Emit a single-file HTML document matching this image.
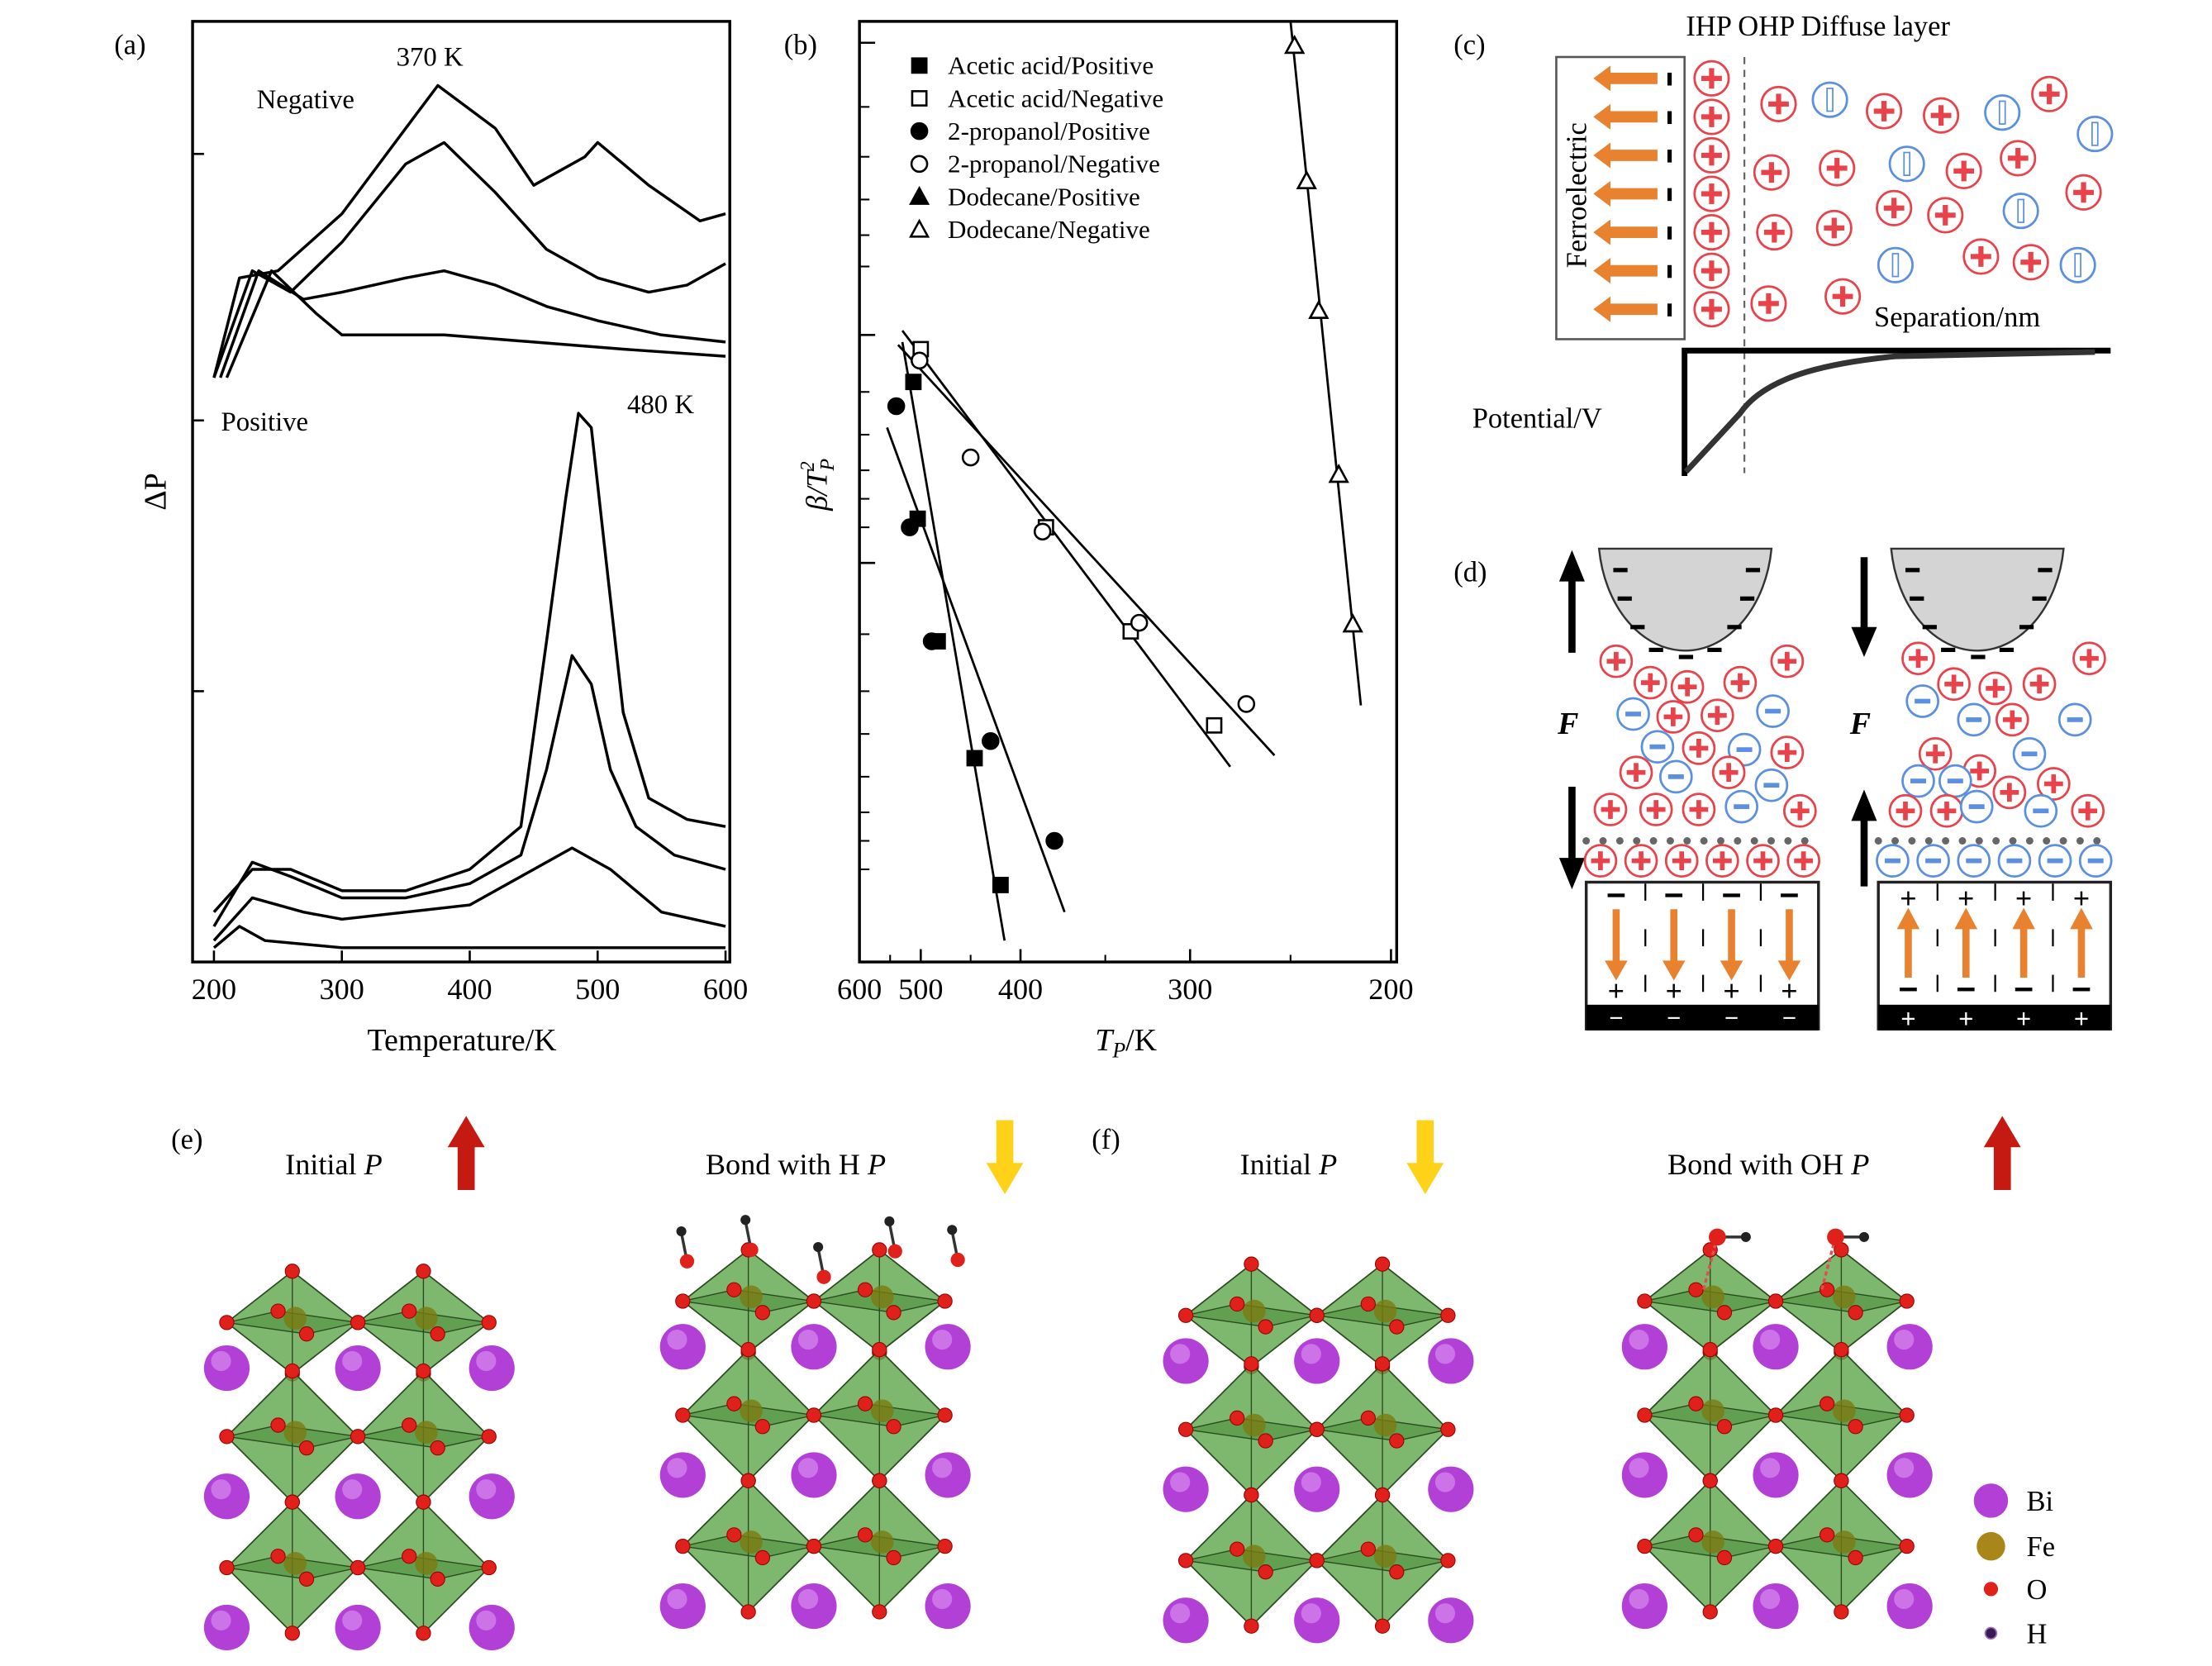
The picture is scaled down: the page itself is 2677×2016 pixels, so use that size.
<!DOCTYPE html>
<html><head><meta charset="utf-8"><style>
html,body{margin:0;padding:0;background:#fff;}
svg{display:block;font-family:"Liberation Serif",serif;}
</style></head><body>
<svg id="fig" width="2677" height="2016" viewBox="0 0 1552 1169" xmlns="http://www.w3.org/2000/svg">
<g id="pa"></g>
<g id="pb"></g>
<g id="pc"></g>
<g id="pd"></g>
<g id="pe"></g>
</svg>
<script>
// ---------- Panel (a) data ----------
const aTicksX = [200, 300, 400, 500, 600];
const aNeg1 = [[200,410],[220,480],[250,485],[300,525],[350,585],[375,615],[420,585],[450,545],[490,565],[500,575],[540,545],[580,520],[600,525]];
const aNeg2 = [[200,410],[230,485],[260,470],[300,505],[350,560],[380,575],[420,540],[460,500],[500,480],[540,470],[570,475],[600,490]];
const aNeg3 = [[205,410],[235,485],[270,465],[300,470],[350,480],[380,485],[420,475],[460,460],[500,450],[550,440],[600,435]];
const aNeg4 = [[210,410],[245,485],[280,455],[300,440],[380,440],[450,435],[520,430],[600,425]];
const aPos1 = [[200,35],[230,65],[260,65],[300,50],[350,50],[400,65],[440,95],[460,225],[475,325],[485,385],[495,375],[505,295],[520,175],[540,115],[570,100],[600,95]];
const aPos2 = [[200,25],[230,70],[260,60],[300,45],[350,45],[400,55],[440,75],[460,135],[480,215],[495,195],[510,135],[530,95],[560,75],[600,65]];
const aPos3 = [[200,15],[230,45],[270,35],[300,30],[400,40],[450,65],[480,80],[510,65],[550,35],[600,25]];
const aPos4 = [[200,10],[220,25],[240,15],[300,10],[600,10]];
const aYTicks = [567, 380, 190];

// ---------- Panel (b) data ----------
const bTicksX = [600, 500, 400, 300, 200];
const bMinorX = [550, 450, 350, 250];
const bAceticPos = [[512,407],[505,311],[483,225],[446,143],[420,54]];
const bAceticNeg = [[500,430],[385,305],[335,232],[288,166]];
const bPropPos = [[540,390],[518,305],[489,225],[430,155],[380,85]];
const bPropNeg = [[502,422],[450,354],[387,302],[330,238],[272,181]];
const bDodPos = [[248,643],[242,548],[236,457],[226,342],[219,237]];
const bDodNeg = [[248,643],[242,548],[236,457],[226,342],[219,237]];
const bFitAP = [[530,435],[416,15]];
const bFitPP = [[555,375],[374,35]];
const bFitAN = [[530,443],[280,137]];
const bFitPN = [[537,433],[258,145]];
const bFitD = [[250,660],[215,180]];
const bYMajor = [645, 440, 280];
const bYMinor = [600,565,535,510,488,400,370,345,325,305,230,190,160,130,105,85,65];

const NS = "http://www.w3.org/2000/svg";
function mk(parent, tag, attrs, text){
  const e = document.createElementNS(NS, tag);
  for (const k in attrs) e.setAttribute(k, attrs[k]);
  if (text !== undefined) e.textContent = text;
  parent.appendChild(e);
  return e;
}
const pa = document.getElementById('pa');
const pb = document.getElementById('pb');
const pc = document.getElementById('pc');
const pd = document.getElementById('pd');
const pe = document.getElementById('pe');

// ===== Panel a =====
const ax = T => 150 + (T - 200) * 0.8975;
const ay = v => 675 - v;
let t;
t = mk(pa,'text',{x:80,y:38,'font-size':20}, '(a)');
 
t = mk(pa,'rect',{x:135,y:15,width:377,height:660,fill:'none',stroke:'#000','stroke-width':2});
 
aTicksX.forEach(v=>{
  const x = ax(v);
  t = mk(pa,'line',{x1:x,x2:x,y1:675,y2:667,stroke:'#000','stroke-width':1.5});
   
  t = mk(pa,'text',{x:x,y:701,'font-size':21,'text-anchor':'middle'}, String(v));
   
});
aYTicks.forEach(v=>{
  t = mk(pa,'line',{x1:135,x2:143,y1:ay(v),y2:ay(v),stroke:'#000','stroke-width':1.5});
   
});
t = mk(pa,'text',{x:324,y:737,'font-size':22,'text-anchor':'middle'}, 'Temperature/K');
 
t = mk(pa,'text',{x:0,y:0,'font-size':22,'text-anchor':'middle',transform:'translate(116,345) rotate(-90)'}, 'ΔP');
 
[['Negative',180,76,'label-negative'],['370 K',278,46,'label-370k'],['Positive',155,302,'label-positive'],['480 K',440,290,'label-480k']].forEach(a=>{
  t = mk(pa,'text',{x:a[1],y:a[2],'font-size':19}, a[0]);
   
});
[[aNeg1,'curve-negative-1'],[aNeg2,'curve-negative-2'],[aNeg3,'curve-negative-3'],[aNeg4,'curve-negative-4'],
 [aPos1,'curve-positive-1'],[aPos2,'curve-positive-2'],[aPos3,'curve-positive-3'],[aPos4,'curve-positive-4']].forEach(s=>{
  const pts = s[0].map(p=>ax(p[0]).toFixed(1)+','+ay(p[1]).toFixed(1)).join(' ');
  t = mk(pa,'polyline',{points:pts,fill:'none',stroke:'#000','stroke-width':2,'stroke-linejoin':'round'});
   
});

// ===== Panel b =====
function bx(T){
  const kT=[600,500,400,300,200], kX=[603,646,716,835,976];
  for(let i=0;i<kT.length-1;i++){
    if(T<=kT[i] && T>=kT[i+1]){ const f=(kT[i]-T)/(kT[i]-kT[i+1]); return kX[i]+f*(kX[i+1]-kX[i]); }
  }
  return T>600 ? 603 : 976;
}
const by = v => 675 - v;
t = mk(pb,'text',{x:550,y:38,'font-size':20}, '(b)');
 
t = mk(pb,'rect',{x:603,y:15,width:377,height:660,fill:'none',stroke:'#000','stroke-width':2});
 
bTicksX.forEach(v=>{
  const x = bx(v);
  t = mk(pb,'line',{x1:x,x2:x,y1:675,y2:666,stroke:'#000','stroke-width':1.5});
   
  t = mk(pb,'text',{x:x,y:701,'font-size':21,'text-anchor':'middle'}, String(v));
   
});
bMinorX.forEach(v=>{
  const x = bx(v);
  t = mk(pb,'line',{x1:x,x2:x,y1:675,y2:670,stroke:'#000','stroke-width':1.2});
   
});
bYMajor.forEach(v=>{
  t = mk(pb,'line',{x1:603,x2:614,y1:by(v),y2:by(v),stroke:'#000','stroke-width':1.5});
   
});
bYMinor.forEach(v=>{
  t = mk(pb,'line',{x1:603,x2:610,y1:by(v),y2:by(v),stroke:'#000','stroke-width':1.2});
   
});
t = mk(pb,'text',{x:790,y:737,'font-size':22,'text-anchor':'middle','font-style':'italic'}, 'T');
 
mk(t,'tspan',{'font-size':15,dy:5},'P');
mk(t,'tspan',{'font-style':'normal',dy:-5},'/K');
t = mk(pb,'text',{x:0,y:0,'font-size':21,'text-anchor':'middle','font-style':'italic',transform:'translate(580,340) rotate(-90)'}, 'β/T');
 
mk(t,'tspan',{'font-size':14,dy:5},'P');
mk(t,'tspan',{'font-size':14,dy:-14,dx:-9},'2');

function marker(g, kind, x, y){
  let e;
  if(kind==='sq'||kind==='osq') e = mk(g,'rect',{x:x-5,y:y-5,width:10,height:10,fill:kind==='sq'?'#000':'#fff',stroke:'#000','stroke-width':1.5});
  else if(kind==='ci'||kind==='oci') e = mk(g,'circle',{cx:x,cy:y,r:5.5,fill:kind==='ci'?'#000':'#fff',stroke:'#000','stroke-width':1.5});
  else e = mk(g,'polygon',{points:`${x},${y-6} ${x+6},${y+5} ${x-6},${y+5}`,fill:kind==='tr'?'#000':'#fff',stroke:'#000','stroke-width':1.5});
  return e;
}
[[bFitAP,'fit-acetic-positive'],[bFitPP,'fit-propanol-positive'],[bFitAN,'fit-acetic-negative'],[bFitPN,'fit-propanol-negative'],[bFitD,'fit-dodecane']].forEach(s=>{
  t = mk(pb,'line',{x1:bx(s[0][0][0]),y1:by(s[0][0][1]),x2:bx(s[0][1][0]),y2:by(s[0][1][1]),stroke:'#000','stroke-width':1.6});
   
});
const bSeries = [[bAceticPos,'sq','Acetic acid/Positive','acetic-positive'],[bAceticNeg,'osq','Acetic acid/Negative','acetic-negative'],
 [bPropPos,'ci','2-propanol/Positive','propanol-positive'],[bPropNeg,'oci','2-propanol/Negative','propanol-negative'],
 [bDodPos,'tr','Dodecane/Positive','dodecane-positive'],[bDodNeg,'otr','Dodecane/Negative','dodecane-negative']];
bSeries.forEach((s,i)=>{
  s[0].forEach(p=>{
    t = marker(pb, s[1], bx(p[0]), by(p[1]));
     
  });
  const ly = 46 + i*23;
  t = marker(pb, s[1], 645, ly);
   
  t = mk(pb,'text',{x:665,y:ly+6,'font-size':18}, s[2]);
   
});

// ===== Panel c =====
function ion(g, x, y, plus, r){
  r = r || 12;
  const col = plus ? '#e8434a' : '#5b8fe0';
  const c = mk(g,'g',{});
  mk(c,'circle',{cx:x,cy:y,r:r,fill:'#fff',stroke:col,'stroke-width':1.6});
  if(plus){
    mk(c,'rect',{x:x-r*0.6,y:y-r*0.15,width:r*1.2,height:r*0.3,fill:col});
    mk(c,'rect',{x:x-r*0.15,y:y-r*0.6,width:r*0.3,height:r*1.2,fill:col});
  } else {
    mk(c,'rect',{x:x-r*0.5,y:y-r*0.15,width:r*1.0,height:r*0.3,fill:col});
  }
  return c;
}
function ionV(g,x,y){
  const c = mk(g,'g',{});
  mk(c,'circle',{cx:x,cy:y,r:12,fill:'#fff',stroke:'#5b8fe0','stroke-width':1.6});
  mk(c,'rect',{x:x-2,y:y-8,width:4,height:16,fill:'none',stroke:'#5b8fe0','stroke-width':1});
  return c;
}
t = mk(pc,'text',{x:1020,y:38,'font-size':20}, '(c)');
 
t = mk(pc,'text',{x:1183,y:25,'font-size':20}, 'IHP  OHP  Diffuse layer');
 
t = mk(pc,'rect',{x:1092,y:40,width:90,height:198,fill:'none',stroke:'#555','stroke-width':1.5});
 
t = mk(pc,'text',{x:0,y:0,'font-size':20,'text-anchor':'middle',transform:'translate(1113,137) rotate(-90)'}, 'Ferroelectric');
 
for(let i=0;i<7;i++){
  const y = 55 + i*27;
  t = mk(pc,'polygon',{points:`${1118},${y} ${1130},${y-9} ${1130},${y-4} ${1163},${y-4} ${1163},${y+4} ${1130},${y+4} ${1130},${y+9}`,fill:'#e8822f'});
   
  t = mk(pc,'rect',{x:1170,y:y-4,width:3,height:9,fill:'#000'});
   
  t = ion(pc,1201,y,true,12);
   
}
t = mk(pc,'line',{x1:1224,y1:40,x2:1224,y2:332,stroke:'#666','stroke-width':1.3,'stroke-dasharray':'5,4'});
 
[[1248,73,1],[1284,70,0],[1322,78,1],[1362,81,1],[1405,79,0],[1438,66,1],[1470,94,0],
 [1243,121,1],[1289,118,1],[1338,115,0],[1378,120,1],[1416,111,1],[1462,135,1],
 [1245,163,1],[1287,160,1],[1329,146,1],[1365,151,1],[1418,148,0],
 [1330,186,0],[1390,180,1],[1425,184,1],[1458,186,0],[1241,213,1],[1293,208,1]].forEach(p=>{
  t = p[2] ? ion(pc,p[0],p[1],true,12) : ionV(pc,p[0],p[1]);
   
});
t = mk(pc,'text',{x:1315,y:229,'font-size':20}, 'Separation/nm');
 
t = mk(pc,'text',{x:1033,y:300,'font-size':20}, 'Potential/V');
 
t = mk(pc,'path',{d:'M1182,334 L1182,246 L1481,246',fill:'none',stroke:'#000','stroke-width':4});
 
t = mk(pc,'path',{d:'M1183,331 L1221,290 C1240,262 1290,254 1330,250 L1470,247',fill:'none',stroke:'#333','stroke-width':4});
 

// ===== Panel d =====
t = mk(pd,'text',{x:1020,y:408,'font-size':20}, '(d)');
 
function dPanel(ox, up){
  const g = mk(pd,'g',{});
   
  t = mk(g,'path',{d:`M${1122+ox},385 A61,82 0 0 0 ${1243+ox},385 Z`,fill:'#d4d4d4',stroke:'#333','stroke-width':1.4});
   
  [[1137,400],[1230,400],[1140,420],[1226,420],[1149,440],[1217,440],[1162,456],[1203,456],[1183,461]].forEach(p=>{
    mk(g,'rect',{x:p[0]+ox-5,y:p[1]-1.5,width:10,height:3,fill:'#000'});
  });
  const ax1 = 1103+ox;
  if(up){
    mk(g,'path',{d:`M${ax1},458 L${ax1},400`,stroke:'#000','stroke-width':5});
    mk(g,'polygon',{points:`${ax1},386 ${ax1-9},408 ${ax1+9},408`,fill:'#000'});
    mk(g,'path',{d:`M${ax1},552 L${ax1},610`,stroke:'#000','stroke-width':5});
    mk(g,'polygon',{points:`${ax1},624 ${ax1-9},602 ${ax1+9},602`,fill:'#000'});
  } else {
    mk(g,'path',{d:`M${ax1},391 L${ax1},448`,stroke:'#000','stroke-width':5});
    mk(g,'polygon',{points:`${ax1},461 ${ax1-9},440 ${ax1+9},440`,fill:'#000'});
    mk(g,'path',{d:`M${ax1},622 L${ax1},568`,stroke:'#000','stroke-width':5});
    mk(g,'polygon',{points:`${ax1},554 ${ax1-9},576 ${ax1+9},576`,fill:'#000'});
  }
  t = mk(g,'text',{x:1093+ox,y:515,'font-size':22,'font-style':'italic','font-weight':'bold'}, 'F');
   
  const ions = up ?
   [[1134,464,1],[1254,464,1],[1158,479,1],[1184,482,1],[1221,479,1],[1146,501,0],[1174,503,1],[1205,502,1],[1244,499,0],
    [1163,524,0],[1192,525,1],[1224,526,0],[1254,528,1],[1148,542,1],[1176,545,0],[1213,542,1],[1243,551,0],
    [1130,568,1],[1162,568,1],[1192,568,1],[1222,566,0],[1263,569,1]] :
   [[1141,462,1],[1261,462,1],[1166,480,1],[1195,483,1],[1226,480,1],[1144,492,0],[1180,505,0],[1207,505,1],[1251,505,0],
    [1153,529,1],[1184,541,1],[1219,529,0],[1236,550,1],[1141,548,0],[1167,548,0],[1205,556,1],
    [1132,569,1],[1161,569,1],[1182,566,0],[1227,569,0],[1260,569,1]];
  ions.forEach(p=>{
    t = ion(g, p[0]+ox, p[1], !!p[2], 11);
     
  });
  for(let i=0;i<14;i++){ mk(g,'circle',{cx:1113+ox+i*11.8,cy:590,r:2.6,fill:'#666'}); }
  for(let i=0;i<6;i++){
    t = ion(g,1123+ox+i*28.5,604,up,11);
     
  }
  t = mk(g,'rect',{x:1113+ox,y:619,width:163,height:103,fill:'#fff',stroke:'#222','stroke-width':2});
   
  t = mk(g,'rect',{x:1113+ox,y:705,width:163,height:18,fill:'#000'});
   
  for(let i=0;i<4;i++){
    const cx = 1134+ox+i*40.5;
    if(i>0) mk(g,'line',{x1:cx-20,x2:cx-20,y1:620,y2:705,stroke:'#000','stroke-width':1.3,'stroke-dasharray':'12,20'});
    const col='#e8822f';
    if(up){
      mk(g,'rect',{x:cx-2.5,y:638,width:5,height:38,fill:col});
      mk(g,'polygon',{points:`${cx-8},674 ${cx+8},674 ${cx},688`,fill:col});
      mk(g,'rect',{x:cx-6,y:627,width:12,height:2.5,fill:'#000'});
      mk(g,'text',{x:cx,y:702,'font-size':20,'text-anchor':'middle','font-family':'Liberation Sans'},'+');
      mk(g,'text',{x:cx,y:720,'font-size':17,'text-anchor':'middle',fill:'#fff','font-family':'Liberation Sans'},'−');
    } else {
      mk(g,'rect',{x:cx-2.5,y:648,width:5,height:38,fill:col});
      mk(g,'polygon',{points:`${cx-8},652 ${cx+8},652 ${cx},637`,fill:col});
      mk(g,'text',{x:cx,y:637,'font-size':20,'text-anchor':'middle','font-family':'Liberation Sans'},'+');
      mk(g,'rect',{x:cx-6,y:693,width:12,height:2.5,fill:'#000'});
      mk(g,'text',{x:cx,y:721,'font-size':18,'text-anchor':'middle',fill:'#fff','font-family':'Liberation Sans'},'+');
    }
  }
}
dPanel(0,true);
dPanel(205,false);

// ===== Panels e/f (crystal structures) =====
function arrow(x, up, col){
  const g = mk(pe,'g',{});
  if(up) mk(g,'polygon',{points:`${x},783 ${x-13},805 ${x-6},805 ${x-6},835 ${x+6},835 ${x+6},805 ${x+13},805`,fill:col});
  else mk(g,'polygon',{points:`${x},838 ${x-13},816 ${x-6},816 ${x-6},786 ${x+6},786 ${x+6},816 ${x+13},816`,fill:col});
  return g;
}
t = mk(pe,'text',{x:120,y:806,'font-size':20},'(e)');  
t = mk(pe,'text',{x:766,y:806,'font-size':20},'(f)');  
[['Initial ',200,'label-e-initial'],['Bond with H ',495,'label-e-bond-h'],['Initial ',870,'label-f-initial'],['Bond with OH ',1170,'label-f-bond-oh']].forEach(a=>{
  t = mk(pe,'text',{x:a[1],y:824,'font-size':21},a[0]);
  mk(t,'tspan',{'font-style':'italic'},'P');
   
});
t = arrow(327,true,'#c41a12');  
t = arrow(705,false,'#ffd21a');  
t = arrow(1000,false,'#ffd21a');  
t = arrow(1405,true,'#c41a12');  

function crystal(ox, top, name){
  const g = mk(pe,'g',{});  
  const rows = [top+40, top+130, top+222];
  const octY = [top+8, top+88, top+180];
  const octX = [ox+50, ox+142];
  octY.forEach((cy,ri)=>{
    octX.forEach(cx=>{
      const h = ri===0 ? 36 : 46;
      const pts = `${cx-46},${cy} ${cx},${cy-h} ${cx+46},${cy} ${cx},${cy+h}`;
      mk(g,'polygon',{points:pts,fill:'#5ea64a','fill-opacity':0.8,stroke:'#2a4a20','stroke-width':1});
      mk(g,'polygon',{points:`${cx-46},${cy} ${cx-10},${cy-8} ${cx+46},${cy} ${cx+10},${cy+8}`,fill:'#4d8f3c','fill-opacity':0.6,stroke:'#2a4a20','stroke-width':0.8});
      mk(g,'line',{x1:cx,y1:cy-h,x2:cx,y2:cy+h,stroke:'#2a4a20','stroke-width':0.8});
      mk(g,'circle',{cx:cx+2,cy:cy-3,r:8,fill:'#7a7a10','fill-opacity':0.8});
      [[cx-46,cy],[cx+46,cy],[cx,cy-h],[cx,cy+h],[cx-10,cy-8],[cx+10,cy+8]].forEach(o=>mk(g,'circle',{cx:o[0],cy:o[1],r:5,fill:'#e0201a',stroke:'#900','stroke-width':0.6}));
    });
  });
  rows.forEach(y=>{
    [ox+4, ox+96, ox+190].forEach(x=>{
      mk(g,'circle',{cx:x,cy:y,r:16,fill:'#b23fd6'});
      mk(g,'circle',{cx:x-4,cy:y-5,r:7,fill:'#d98af0','fill-opacity':0.7});
    });
  });
}
crystal(155, 920, 'structure-e-initial');
crystal(475, 905, 'structure-e-bond-h');
crystal(828, 915, 'structure-f-initial');
crystal(1150, 905, 'structure-f-bond-oh');
[[482,885],[527,877],[578,896],[628,878],[672,884]].forEach(p=>{
  mk(pe,'line',{x1:p[0],y1:p[1],x2:p[0]-4,y2:p[1]-20,stroke:'#333','stroke-width':2});
  mk(pe,'circle',{cx:p[0]-4,cy:p[1]-21,r:3.5,fill:'#222'});
  const o = mk(pe,'circle',{cx:p[0],cy:p[1],r:5,fill:'#e0201a'});
   
});
[[1205,868],[1288,868]].forEach(p=>{
  mk(pe,'line',{x1:p[0],y1:p[1],x2:p[0]-10,y2:p[1]+38,stroke:'#e05050','stroke-width':2,'stroke-dasharray':'3,2'});
  mk(pe,'line',{x1:p[0],y1:p[1],x2:p[0]+20,y2:p[1],stroke:'#333','stroke-width':2});
  mk(pe,'circle',{cx:p[0]+20,cy:p[1],r:3.5,fill:'#222'});
  const o = mk(pe,'circle',{cx:p[0],cy:p[1],r:6,fill:'#e0201a'});
   
});
[['Bi',1053,'#b23fd6',12],['Fe',1085,'#a8861a',10],['O',1115,'#e0201a',5],['H',1146,'#3a1a50',4]].forEach(l=>{
  const c = mk(pe,'circle',{cx:1397,cy:l[1],r:l[3],fill:l[2],stroke:l[0]==='H'?'#a070c0':'none','stroke-width':1});
   
  const tx = mk(pe,'text',{x:1422,y:l[1]+7,'font-size':20},l[0]);
   
});
</script>
</body></html>
